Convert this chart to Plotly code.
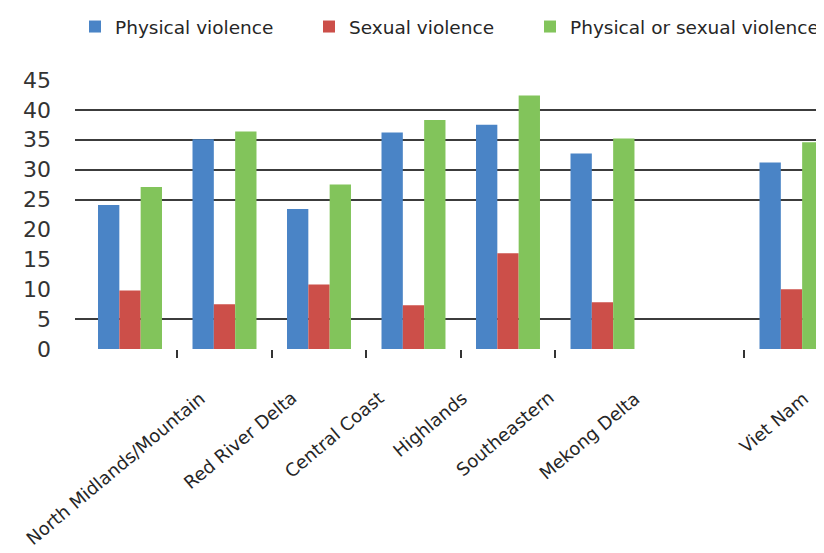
import plotly.graph_objects as go

categories = ["North Midlands/Mountain", "Red River Delta", "Central Coast", "Highlands",
              "Southeastern", "Mekong Delta", "", "Viet Nam"]
physical = [24.1, 35.1, 23.4, 36.2, 37.5, 32.7, None, 31.2]
sexual = [9.8, 7.5, 10.8, 7.3, 16.0, 7.8, None, 10.0]
physical_or_sexual = [27.1, 36.4, 27.5, 38.3, 42.4, 35.2, None, 34.6]
series_names = ["Physical violence", "Sexual violence", "Physical or sexual violence"]
series_colors = ["#4a84c6", "#cc4f49", "#82c45b"]
y_ticks = [0, 5, 10, 15, 20, 25, 30, 35, 40, 45]
grid_values = [5, 25, 30, 35, 40]
between_ticks = [0.5, 1.5, 2.5, 3.5, 4.5, 6.5]

# layout: small horizontal nudges (px) of the rotated category labels, and legend x anchors
label_xshift = [-15, 15, 15, 16, -3, -13, 0, -18]
legend_x = [0.0, 0.3124, 0.6075]
legend_ids = ["legend", "legend2", "legend3"]

x_pos = list(range(len(categories)))

fig = go.Figure()
for name, vals, col, lg in zip(series_names, [physical, sexual, physical_or_sexual],
                               series_colors, legend_ids):
    fig.add_trace(go.Bar(x=x_pos, y=vals, name=name, legend=lg,
                         marker=dict(color=col, line=dict(width=0))))

# invisible helper trace so that the grid overlay axis exists
fig.add_trace(go.Scatter(x=[0], y=[0], yaxis="y2", mode="markers",
                         marker=dict(opacity=0), showlegend=False, hoverinfo="skip"))

for i, cat in enumerate(categories):
    if cat:
        fig.add_annotation(x=i, xref="x", y=-0.132, yref="paper", text=cat,
                           textangle=-40, showarrow=False, xanchor="center", yanchor="top",
                           xshift=label_xshift[i],
                           font=dict(family="DejaVu Sans", size=18, color="#262626"))

legend_style = dict(orientation="h", xanchor="left", y=1.198, yanchor="middle",
                    font=dict(family="DejaVu Sans", size=18.5, color="#262626"),
                    bgcolor="rgba(0,0,0,0)")

# page body has an 8px margin, so the figure is 8px smaller than the window
fig.update_layout(
    width=816, height=545,
    margin=dict(l=67, r=0, t=68, b=204),
    paper_bgcolor="white", plot_bgcolor="white",
    barmode="group", bargap=0.323, bargroupgap=0,
    showlegend=True,
    legend=dict(x=legend_x[0], **legend_style),
    legend2=dict(x=legend_x[1], **legend_style),
    legend3=dict(x=legend_x[2], **legend_style),
    xaxis=dict(range=[-0.582, 7.344], tickmode="array", tickvals=between_ticks,
               showticklabels=False, ticks="outside", ticklen=8, tickwidth=2,
               tickcolor="#333333", showgrid=False, zeroline=False, showline=False),
    yaxis=dict(range=[0, 45], tickmode="array", tickvals=y_ticks,
               ticktext=[str(v) for v in y_ticks], showgrid=False, zeroline=False,
               showline=False, ticks="", ticklabelstandoff=23,
               tickfont=dict(family="DejaVu Sans", size=22, color="#333333")),
    yaxis2=dict(range=[0, 45], overlaying="y", side="left", tickmode="array",
                tickvals=grid_values, showticklabels=False, showgrid=True,
                gridcolor="#3c3c3c", gridwidth=2, zeroline=False, showline=False, ticks=""),
)

fig.write_html("out.html")
